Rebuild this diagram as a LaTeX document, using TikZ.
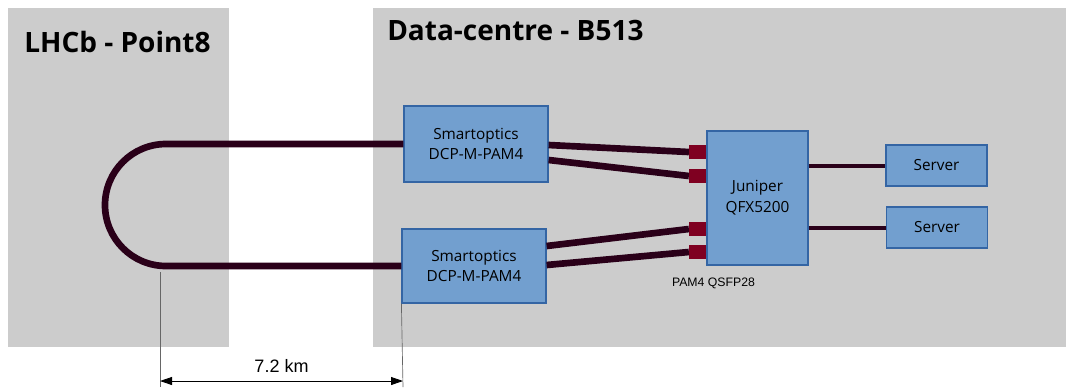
\documentclass[tikz,border=0pt]{standalone}
\usepackage{fontspec}
\setmainfont{Open Sans}
\newfontfamily\labelfont{Liberation Sans}
\usetikzlibrary{arrows.meta,calc}

\definecolor{areagray}{HTML}{CCCCCC}
\definecolor{boxblue}{HTML}{729FCF}
\definecolor{boxline}{HTML}{3465A4}
\definecolor{fibre}{HTML}{2A0019}
\definecolor{portred}{HTML}{7F0021}

\tikzset{
    area/.style={fill=areagray, draw=none},
    areatitle/.style={anchor=west, inner sep=0pt, font=\bfseries\fontsize{21}{25}\selectfont},
    device/.style={draw=boxline, fill=boxblue, line width=0.9pt, align=center,
        inner sep=0pt, font=\fontsize{11.5}{15.5}\selectfont},
    port/.style={fill=portred, draw=none, minimum width=12.75pt, minimum height=10.5pt, inner sep=0pt},
    fibreline/.style={draw=fibre, line width=5pt},
    cableline/.style={draw=fibre, line width=3pt},
    dimline/.style={draw=black!60, line width=0.5pt}
}

\begin{document}
\begin{tikzpicture}[x=0.75pt, y=-0.75pt]
    \useasboundingbox (0,0) rectangle (1066,387);
    % the two sites
    \fill[area] (8,8) rectangle (229,347);
    \fill[area] (373,8) rectangle (1066,347);
    \node[areatitle] (lhcb) at (24,42) {LHCb - Point8};
    \node[areatitle] (dc) at (387,30) {Data-centre - B513};

    % devices
    \node[device, minimum width=108pt, minimum height=57pt] (smartA) at (476,144) {Smartoptics\\DCP-M-PAM4};
    \node[device, minimum width=108pt, minimum height=55.5pt] (smartB) at (474,266) {Smartoptics\\DCP-M-PAM4};
    \node[device, minimum width=75.75pt, minimum height=100.5pt] (juniper) at (757.5,198) {Juniper\\QFX5200};
    \node[device, minimum width=75.75pt, minimum height=30.75pt] (serverA) at (936.5,165.5) {Server};
    \node[device, minimum width=75.75pt, minimum height=30.75pt] (serverB) at (937,227.5) {Server};

    % QSFP28 ports on the switch
    \node[port, anchor=east] (portA) at (juniper.west |- 0,152) {};
    \node[port, anchor=east] (portB) at (juniper.west |- 0,176) {};
    \node[port, anchor=east] (portC) at (juniper.west |- 0,229) {};
    \node[port, anchor=east] (portD) at (juniper.west |- 0,252) {};
    \node[font=\labelfont\fontsize{9.2}{11}\selectfont] (qsfp) at (713.5,283) {PAM4 QSFP28};

    % fibre loop, 7.2 km
    \pgfmathsetmacro{\R}{61}  % loop radius in px
    \coordinate (loopend) at (160,267);
    \draw[fibreline] (smartA.west) -- (166,144) arc (270:90:\R) -- (smartB.west);

    % links to the switch and servers
    \draw[fibreline] ([yshift=-0.75pt]smartA.east) -- (portA.west);
    \draw[fibreline] ([yshift=-12pt]smartA.east) -- (portB.west);
    \draw[fibreline] ([yshift=15pt]smartB.east) -- (portC.west);
    \draw[fibreline] ([yshift=0.75pt]smartB.east) -- (portD.west);
    \draw[cableline] (juniper.east |- serverA.west) -- (serverA.west);
    \draw[cableline] (juniper.east |- serverB.west) -- (serverB.west);

    % distance
    \coordinate (dimL) at (160,387);
    \coordinate (dimR) at (403,387);
    \draw[dimline] ([yshift=-4pt]loopend) -- (dimL);
    \draw[dimline] (smartB.south west) -- (dimR);
    \draw[black, line width=0.6pt, {Triangle[length=9pt,width=6pt]}-{Triangle[length=9pt,width=6pt]}]
        ($(dimL)+(0,-6)$) -- ($(dimR)+(0,-6)$) node[midway, above=3pt, font=\labelfont\fontsize{13.5}{16}\selectfont] (dist) {7.2 km};
\end{tikzpicture}
\end{document}
